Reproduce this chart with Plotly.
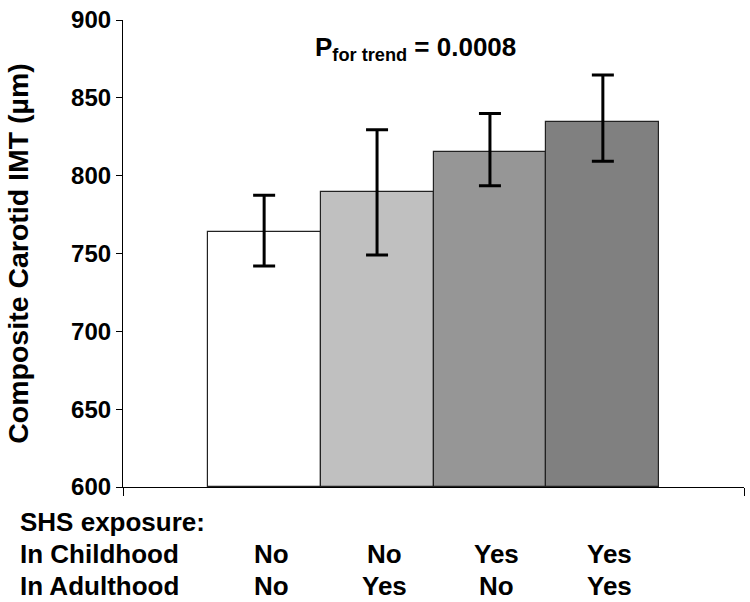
import plotly.graph_objects as go

# Data
groups = ["Group 1", "Group 2", "Group 3", "Group 4"]
means = [764, 789.5, 815, 834.5]
upper = [787.4, 829.5, 839.9, 864.7]
lower = [741.9, 749.1, 793.5, 809.2]
childhood = ["No", "No", "Yes", "Yes"]
adulthood = ["No", "Yes", "No", "Yes"]
bar_colors = ["#ffffff", "#c0c0c0", "#969696", "#808080"]
y_ticks = [600, 650, 700, 750, 800, 850, 900]

FONT = "Liberation Sans, Arial, sans-serif"

err_plus = [u - m for u, m in zip(upper, means)]
err_minus = [m - l for m, l in zip(means, lower)]
xpos = list(range(len(groups)))

fig = go.Figure()
fig.add_trace(go.Bar(
    x=xpos, y=[m - 600 for m in means], base=600,
    width=1.0,
    marker=dict(color=bar_colors, line=dict(color="#222222", width=1.2)),
    error_y=dict(type="data", symmetric=False, array=err_plus, arrayminus=err_minus,
                 color="black", thickness=3, width=11),
    showlegend=False, hoverinfo="skip",
))

fig.update_layout(
    width=750, height=602,
    margin=dict(l=123, r=6, t=15, b=115),
    plot_bgcolor="white", paper_bgcolor="white",
    font=dict(family=FONT, color="black"),
    bargap=0,
)
fig.update_yaxes(
    range=[600, 900], tickvals=y_ticks, showgrid=False, zeroline=False,
    showline=True, linecolor="black", linewidth=1.2,
    ticks="outside", ticklen=6, tickcolor="black", tickwidth=1.2,
    tickfont=dict(family=FONT, size=24, weight="bold"),
    title=dict(text="Composite Carotid IMT (µm)", standoff=34,
               font=dict(family=FONT, size=28.5, weight="bold")),
)
fig.update_xaxes(
    range=[-1.25, 4.25], showgrid=False, zeroline=False,
    showline=True, linecolor="black", linewidth=1.2,
    tickvals=[-1.25, 4.25], ticks="outside", ticklen=8, tickcolor="black", tickwidth=1.2,
    showticklabels=False,
)

fig.add_annotation(
    x=0.471, xref="paper", y=882, yref="y",
    text="P<sub>for trend</sub> = 0.0008", showarrow=False,
    font=dict(family=FONT, size=26, weight="bold"), xanchor="center", yanchor="middle",
)

row_font = dict(family=FONT, size=26, weight="bold")
x_left = (18 - 123) / 621
rows_y = [-0.074, -0.144, -0.213]
fig.add_annotation(x=x_left, xref="paper", y=rows_y[0], yref="paper", text="SHS exposure:",
                   showarrow=False, xanchor="left", yanchor="middle", font=row_font)
fig.add_annotation(x=x_left, xref="paper", y=rows_y[1], yref="paper", text="In Childhood",
                   showarrow=False, xanchor="left", yanchor="middle", font=row_font)
fig.add_annotation(x=x_left, xref="paper", y=rows_y[2], yref="paper", text="In Adulthood",
                   showarrow=False, xanchor="left", yanchor="middle", font=row_font)
for i in xpos:
    fig.add_annotation(x=i, xref="x", y=rows_y[1], yref="paper", text=childhood[i],
                       showarrow=False, xanchor="center", yanchor="middle", xshift=7, font=row_font)
    fig.add_annotation(x=i, xref="x", y=rows_y[2], yref="paper", text=adulthood[i],
                       showarrow=False, xanchor="center", yanchor="middle", xshift=7, font=row_font)

fig.write_html(
    "out.html",
    config={"displayModeBar": False},
    post_script="document.body.style.margin='0';document.body.style.overflow='hidden';",
)
